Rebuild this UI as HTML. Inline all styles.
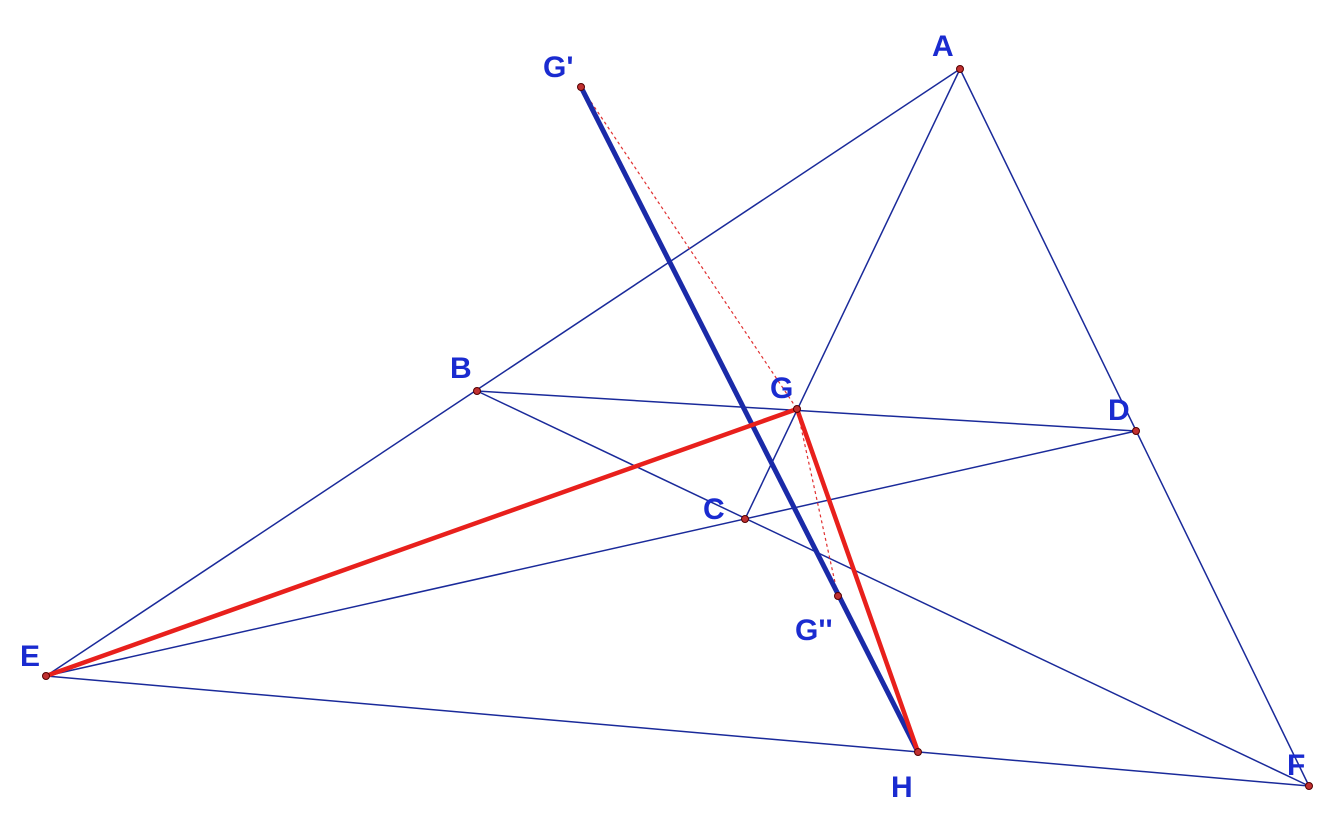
<!DOCTYPE html>
<html><head><style>body{margin:0;background:#fff}svg{display:block}text{font-family:"Liberation Sans",sans-serif;font-weight:bold;font-size:30px;fill:#1a2bd0}</style></head><body>
<svg width="1340" height="828" viewBox="0 0 1340 828">
<g stroke="#1a2a9a" stroke-width="1.5" fill="none">
<line x1="960" y1="69" x2="46" y2="676"/>
<line x1="960" y1="69" x2="1309" y2="786"/>
<line x1="477" y1="391" x2="1136" y2="431"/>
<line x1="46" y1="676" x2="1136" y2="431"/>
<line x1="477" y1="391" x2="1309" y2="786"/>
<line x1="46" y1="676" x2="1309" y2="786"/>
<line x1="960" y1="69" x2="745" y2="519"/>
</g>
<g stroke="#e03030" stroke-width="1.2" stroke-dasharray="3,3" fill="none">
<line x1="581" y1="87" x2="797" y2="409"/>
<line x1="797" y1="409" x2="838" y2="596"/>
</g>
<line x1="581" y1="87" x2="918" y2="752" stroke="#1a2aa8" stroke-width="5"/>
<g stroke="#e8201c" stroke-width="4.5" fill="none" stroke-linejoin="round">
<polyline points="46,676 797,409 918,752"/>
</g>
<g fill="#c03030" stroke="#500" stroke-width="1">
<circle cx="960" cy="69" r="3.5"/><circle cx="581" cy="87" r="3.5"/><circle cx="477" cy="391" r="3.5"/>
<circle cx="797" cy="409" r="3.5"/><circle cx="1136" cy="431" r="3.5"/><circle cx="745" cy="519" r="3.5"/>
<circle cx="838" cy="596" r="3.5"/><circle cx="46" cy="676" r="3.5"/><circle cx="918" cy="752" r="3.5"/><circle cx="1309" cy="786" r="3.5"/>
</g>
<text x="932" y="56">A</text>
<text x="543" y="77">G'</text>
<text x="450" y="378">B</text>
<text x="770" y="398">G</text>
<text x="1108" y="420">D</text>
<text x="703" y="519">C</text>
<text x="795" y="640">G''</text>
<text x="20" y="666">E</text>
<text x="891" y="797">H</text>
<text x="1287" y="775">F</text>
</svg>
</body></html>
